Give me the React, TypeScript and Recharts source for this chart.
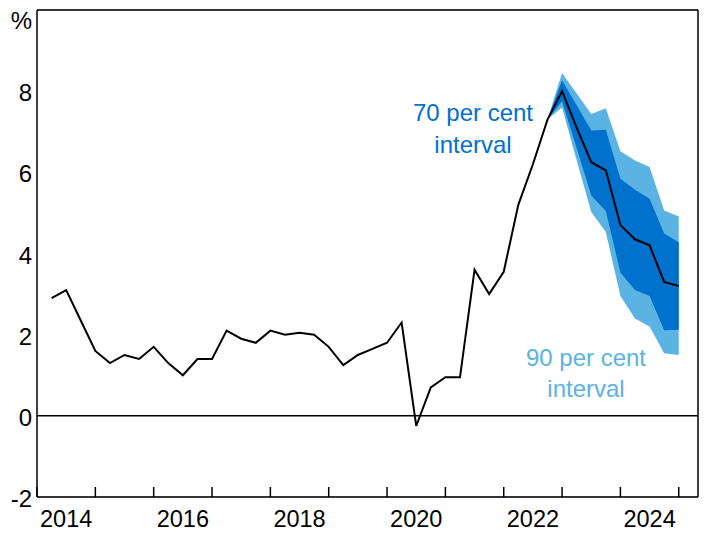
import {
  Area,
  CartesianGrid,
  ComposedChart,
  Line,
  ReferenceLine,
  XAxis,
  YAxis,
} from "recharts";

// year-ended inflation, quarterly, Mar 2014 .. Dec 2024 (actual then central forecast)
const startYear = 2014;
const inflation = [
  2.9, 3.1, 2.35, 1.6, 1.3, 1.5, 1.4, 1.7, 1.3, 1.0, 1.4, 1.4, 2.1, 1.9, 1.8, 2.1,
  2.0, 2.05, 2.0, 1.7, 1.25, 1.5, 1.65, 1.8, 2.3, -0.25, 0.7, 0.95, 0.95, 3.6, 3.0,
  3.55, 5.2, 6.2, 7.3, 8.0, 7.1, 6.25, 6.05, 4.7, 4.35, 4.2, 3.3, 3.2,
];

// forecast intervals start at the Sep 2022 quarter (index 34)
const bandStart = 34;
const low90 = [7.3, 7.6, 6.3, 5.02, 4.53, 2.95, 2.4, 2.2, 1.54, 1.5];
const high90 = [7.3, 8.45, 7.94, 7.44, 7.58, 6.52, 6.29, 6.13, 5.06, 4.91];
const low70 = [7.3, 7.75, 6.6, 5.43, 5.05, 3.53, 3.1, 2.95, 2.11, 2.12];
const high70 = [7.3, 8.27, 7.65, 7.03, 7.05, 5.84, 5.57, 5.35, 4.49, 4.28];

const yTicks = [-2, 0, 2, 4, 6, 8, 10];
const yearTicks = [2014, 2015, 2016, 2017, 2018, 2019, 2020, 2021, 2022, 2023, 2024, 2025];
const yearLabels = [2014, 2016, 2018, 2020, 2022, 2024];

const LIGHT = "#5ab3e3";
const DARK = "#0071cd";
const FONT = "'Liberation Sans', Arial, sans-serif";

const data = inflation.map((v, i) => {
  const j = i - bandStart;
  const inBand = j >= 0 && j < low90.length;
  return {
    date: startYear + (i + 1) / 4,
    inflation: v,
    band90: inBand ? [low90[j], high90[j]] : null,
    band70: inBand ? [low70[j], high70[j]] : null,
  };
});

const xTicks = [...yearTicks, ...yearLabels.map((y) => y + 0.5)].sort((a, b) => a - b);

function YTick(props: any) {
  const { x, y, payload, textAnchor } = props;
  const isPct = payload.value === 10;
  return (
    <text
      x={x}
      y={isPct ? y + 19 : y + 10}
      textAnchor={textAnchor}
      fontSize={24}
      fontFamily={FONT}
      fill="#000"
    >
      {isPct ? "%" : payload.value}
    </text>
  );
}

function XTick(props: any) {
  const { x, y, payload } = props;
  const v = payload.value;
  if (Number.isInteger(v)) {
    return <line x1={x} x2={x} y1={y} y2={y - 10} stroke="#000" strokeWidth={1.5} />;
  }
  return (
    <text x={x} y={y + 30} textAnchor="middle" fontSize={23.5} fontFamily={FONT} fill="#000">
      {Math.floor(v)}
    </text>
  );
}

export default function App() {
  return (
    <div style={{ position: "absolute", left: 0, top: 0, width: 722, height: 533, background: "#fff" }}>
      <ComposedChart width={722} height={533} data={data} margin={{ top: 10, right: 0, bottom: 0, left: 0 }}>
        <CartesianGrid vertical={false} stroke="#c4c4c4" strokeWidth={1.5} />
        <XAxis
          dataKey="date"
          type="number"
          domain={[2014, 2025.33]}
          ticks={xTicks}
          interval={0}
          height={36}
          tickSize={0}
          tickMargin={0}
          tickLine={false}
          tick={<XTick />}
          axisLine={{ stroke: "#000", strokeWidth: 1.5 }}
          allowDataOverflow
        />
        <YAxis
          yAxisId="left"
          orientation="left"
          domain={[-2, 10]}
          ticks={yTicks}
          interval={0}
          width={37}
          tickSize={0}
          tickMargin={5}
          tickLine={false}
          tick={<YTick />}
          axisLine={{ stroke: "#000", strokeWidth: 1.5 }}
        />
        <YAxis
          yAxisId="right"
          orientation="right"
          domain={[-2, 10]}
          ticks={yTicks}
          interval={0}
          width={24}
          tickSize={0}
          tickMargin={5}
          tickLine={false}
          tick={<YTick />}
          axisLine={{ stroke: "#000", strokeWidth: 1.5 }}
        />
        <Area
          yAxisId="left"
          dataKey="band90"
          type="linear"
          fill={LIGHT}
          fillOpacity={1}
          stroke="none"
          isAnimationActive={false}
          connectNulls={false}
        />
        <Area
          yAxisId="left"
          dataKey="band70"
          type="linear"
          fill={DARK}
          fillOpacity={1}
          stroke="none"
          isAnimationActive={false}
          connectNulls={false}
        />
        <ReferenceLine yAxisId="left" y={0} stroke="#000" strokeWidth={1.5} />
        <ReferenceLine yAxisId="left" y={10} stroke="#000" strokeWidth={1.5} />
        <Line
          yAxisId="left"
          dataKey="inflation"
          type="linear"
          stroke="#000"
          strokeWidth={2}
          dot={false}
          isAnimationActive={false}
        />
      </ComposedChart>
      <svg
        width={722}
        height={533}
        style={{ position: "absolute", left: 0, top: 0, pointerEvents: "none" }}
        fontFamily={FONT}
        fontSize={24}
      >
        <text textAnchor="middle" fill={DARK}>
          <tspan x={473} y={121}>70 per cent</tspan>
          <tspan x={473} y={153}>interval</tspan>
        </text>
        <text textAnchor="middle" fill={LIGHT}>
          <tspan x={586} y={366}>90 per cent</tspan>
          <tspan x={586} y={397}>interval</tspan>
        </text>
      </svg>
    </div>
  );
}
